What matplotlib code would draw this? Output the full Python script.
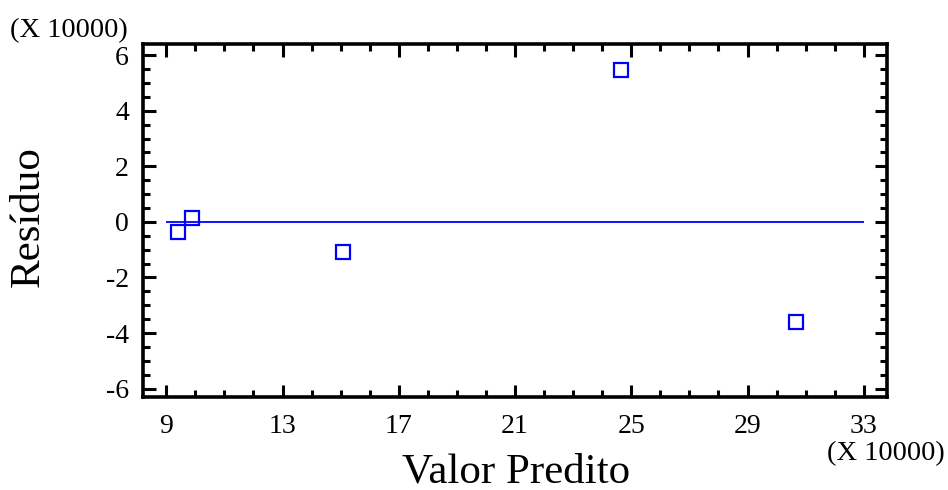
import matplotlib
matplotlib.use("Agg")
import matplotlib.pyplot as plt
from matplotlib.ticker import MultipleLocator

# Predicted values and residuals (in units of 10000)
predito = [9.41, 9.90, 15.07, 24.66, 30.66]
residuo = [-0.38, 0.14, -1.08, 5.47, -3.60]

xticks = [9, 13, 17, 21, 25, 29, 33]
yticks = [-6, -4, -2, 0, 2, 4, 6]

plt.rcParams['font.family'] = ['Liberation Serif', 'DejaVu Serif']
plt.rcParams['axes.unicode_minus'] = False

W, H = 948, 490
fig = plt.figure(figsize=(W / 100, H / 100), dpi=100)
ax = fig.add_axes([143 / W, 1 - 397 / H, (887 - 143) / W, (397 - 44) / H])

# zero-residual reference line across the tick range
ax.hlines(0, xticks[0], xticks[-1], color='#0000ff', lw=1.3, zorder=1)
ax.plot(predito, residuo, linestyle='none', marker='s', markersize=10,
        markerfacecolor='none', markeredgecolor='#0000ff', markeredgewidth=1.6,
        zorder=2)

ax.set_xlim(8.2, 33.8)
ax.set_ylim(-6.3, 6.4)
ax.set_xticks(xticks)
ax.set_yticks(yticks)
ax.xaxis.set_minor_locator(MultipleLocator(1))
ax.yaxis.set_minor_locator(MultipleLocator(0.5))

ax.tick_params(which='both', direction='in', top=True, right=True,
               width=2.2, labelsize=20, colors='black')
ax.tick_params(which='major', length=9)
ax.tick_params(which='minor', length=5)
ax.tick_params(axis='y', which='major', pad=10)
ax.tick_params(axis='x', which='major', pad=12)

for s in ax.spines.values():
    s.set_linewidth(2.6)

fig.text(516 / W, 1 - 482 / H, 'Valor Predito', fontsize=31,
         ha='center', va='baseline')
fig.text(28 / W, 1 - 217 / H, 'Resíduo', fontsize=31, rotation=90,
         ha='center', va='center')

fig.text(10 / W, 1 - 37 / H, '(X 10000)', fontsize=20.5, ha='left', va='baseline')
fig.text(827 / W, 1 - 460 / H, '(X 10000)', fontsize=20.5, ha='left', va='baseline')

fig.savefig('out.png', dpi=100)
